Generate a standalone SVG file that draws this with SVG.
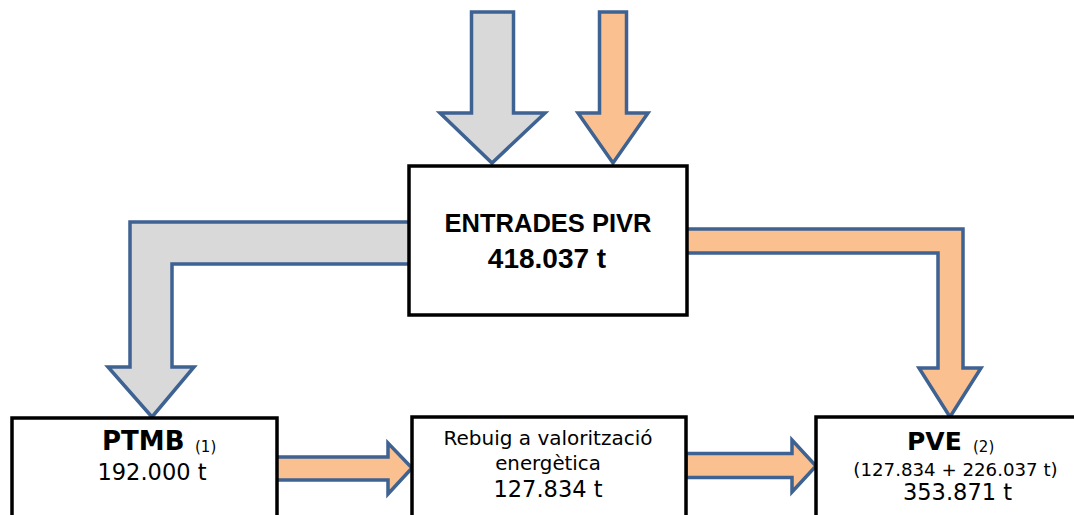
<svg xmlns="http://www.w3.org/2000/svg" width="1074" height="515" viewBox="0 0 1074 515">
  <style>
    .box { fill: #ffffff; stroke: #000000; stroke-width: 3.5; }
    .arrow { stroke: #3E6291; stroke-width: 3.5; stroke-linejoin: miter; }
    .gray { fill: #D9D9D9; }
    .orange { fill: #FAC090; }
    .v { font-family: "DejaVu Sans", Verdana, sans-serif; fill: #000000; }
    .c { font-family: "Liberation Sans", Arial, sans-serif; font-weight: bold; fill: #000000; }
  </style>
  <rect width="1074" height="515" fill="#ffffff"/>
  <g id="connectors">
    <polygon class="arrow gray" points="471.5,12 513.5,12 513.5,113 545,113 492,163 440,113 471.5,113"/>
    <polygon class="arrow orange" points="599.5,12 626.5,12 626.5,113 648,113 613,163 578,113 599.5,113"/>
    <polygon class="arrow gray" points="412,222 130,222 130,367 108,367 152,417 194,367 172,367 172,264 412,264"/>
    <polygon class="arrow orange" points="684,229 963,229 963,368 981,368 950,417 919,368 938,368 938,253 684,253"/>
    <polygon class="arrow orange" points="276,457 388,457 388,443 412,468 388,494 388,480 276,480"/>
    <polygon class="arrow orange" points="686,453.5 792,453.5 792,440 816,466 792,492 792,477.5 686,477.5"/>
  </g>
  <g id="entrades">
    <rect class="box" x="409" y="166" width="278" height="149"/>
    <text class="c" x="548" y="232" font-size="25.5" text-anchor="middle">ENTRADES PIVR</text>
    <text class="c" x="547" y="268" font-size="28" text-anchor="middle">418.037 t</text>
  </g>
  <g id="ptmb">
    <rect class="box" x="12" y="418" width="265" height="120"/>
    <text class="v" x="102" y="450" font-size="26" font-weight="bold">PTMB</text>
    <text class="v" x="195" y="452" font-size="15">(1)</text>
    <text class="v" x="152" y="480" font-size="22.5" text-anchor="middle">192.000 t</text>
  </g>
  <g id="rebuig">
    <rect class="box" x="412" y="417" width="274" height="120"/>
    <text class="v" x="548" y="445" font-size="20" text-anchor="middle">Rebuig a valorització</text>
    <text class="v" x="548" y="470" font-size="19.8" text-anchor="middle">energètica</text>
    <text class="v" x="548" y="497" font-size="22.5" text-anchor="middle">127.834 t</text>
  </g>
  <g id="pve">
    <rect class="box" x="816" y="417" width="300" height="120"/>
    <text class="v" x="907" y="450" font-size="25" font-weight="bold">PVE</text>
    <text class="v" x="973" y="452" font-size="15">(2)</text>
    <text class="v" x="955.5" y="476" font-size="18.2" text-anchor="middle">(127.834 + 226.037 t)</text>
    <text class="v" x="957.5" y="500" font-size="22.5" text-anchor="middle">353.871 t</text>
  </g>
</svg>
